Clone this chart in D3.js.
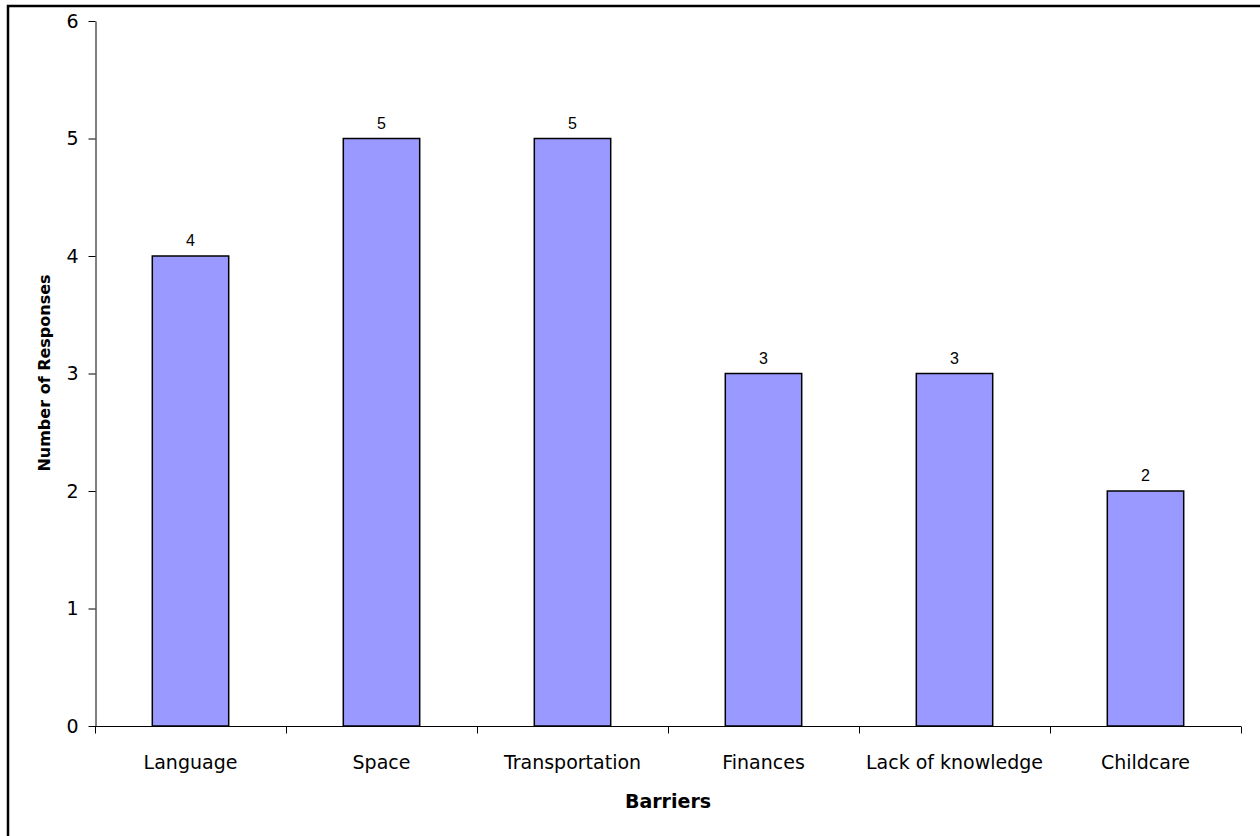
<!DOCTYPE html>
<html>
<head>
<meta charset="utf-8">
<script src="https://cdn.jsdelivr.net/npm/d3@7"></script>
<style>
  body { margin: 0; background: #fff; }
  svg text { fill: #000; }
</style>
</head>
<body>
<svg id="chart" width="1260" height="836"></svg>
<script>
// data
const barriers = ["Language", "Space", "Transportation", "Finances", "Lack of knowledge", "Childcare"];
const responses = [4, 5, 5, 3, 3, 2];
const yTicks = [0, 1, 2, 3, 4, 5, 6];

const svg = d3.select("#chart");

// outer frame (right / bottom edges fall outside the picture)
svg.append("rect")
  .attr("x", 8).attr("y", 6)
  .attr("width", 1270).attr("height", 850)
  .attr("fill", "none")
  .attr("stroke", "#000")
  .attr("stroke-width", 2.5);

const plot = {left: 95, right: 1241, top: 21, bottom: 726};

let x = d3.scaleBand()
  .domain(barriers)
  .range([plot.left, plot.right])
  .paddingInner(0.6)
  .paddingOuter(0.3);

let y = d3.scaleLinear()
  .domain([0, 6])
  .range([plot.bottom, plot.top]);

// y axis
let yAxis = svg.append("g")
  .attr("transform", "translate(" + (plot.left + 0.5) + ",0)")
  .call(d3.axisLeft(y).tickValues(yTicks).tickFormat(d3.format("d"))
    .tickSize(7).tickPadding(10).tickSizeOuter(0));
yAxis.selectAll("text")
  .style("font-family", "DejaVu Sans, Tahoma, sans-serif")
  .style("font-size", "19px");

// x axis, ticks sit between the categories
let xAxis = svg.append("g")
  .attr("transform", "translate(0," + (plot.bottom + 0.5) + ")");
xAxis.append("line")
  .attr("x1", plot.left).attr("x2", plot.right)
  .attr("stroke", "#000");
let edges = d3.range(barriers.length + 1).map(i => plot.left + i * (plot.right - plot.left) / barriers.length);
xAxis.selectAll("line.tick")
  .data(edges)
  .join("line")
  .attr("class", "tick")
  .attr("x1", d => Math.round(d) + 0.5).attr("x2", d => Math.round(d) + 0.5)
  .attr("y1", 0).attr("y2", 7)
  .attr("stroke", "#000");
xAxis.selectAll("text.cat")
  .data(barriers)
  .join("text")
  .attr("class", "cat")
  .attr("x", d => x(d) + x.bandwidth() / 2)
  .attr("y", 42)
  .attr("text-anchor", "middle")
  .style("font-family", "DejaVu Sans, Tahoma, sans-serif")
  .style("font-size", "19px")
  .text(d => d);

svg.selectAll(".domain").attr("stroke", "#000");

// bars
svg.selectAll("rect.bar")
  .data(responses)
  .join("rect")
  .attr("class", "bar")
  .attr("x", (d, i) => x(barriers[i]))
  .attr("y", d => y(d))
  .attr("width", x.bandwidth())
  .attr("height", d => y(0) - y(d))
  .attr("fill", "#9999FF")
  .attr("stroke", "#000")
  .attr("stroke-width", 1.5);

// value labels
svg.selectAll("text.val")
  .data(responses)
  .join("text")
  .attr("class", "val")
  .attr("x", (d, i) => x(barriers[i]) + x.bandwidth() / 2)
  .attr("y", d => y(d) - 10)
  .attr("text-anchor", "middle")
  .style("font-family", "Liberation Sans, Arial, sans-serif")
  .style("font-size", "16px")
  .text(d => d);

// axis titles
svg.append("text")
  .attr("transform", "translate(50,373) rotate(-90)")
  .attr("text-anchor", "middle")
  .style("font-family", "DejaVu Sans, Tahoma, sans-serif")
  .style("font-size", "16px")
  .style("font-weight", "bold")
  .text("Number of Responses");

svg.append("text")
  .attr("x", (plot.left + plot.right) / 2)
  .attr("y", 808)
  .attr("text-anchor", "middle")
  .style("font-family", "DejaVu Sans, Tahoma, sans-serif")
  .style("font-size", "19px")
  .style("font-weight", "bold")
  .text("Barriers");
</script>
</body>
</html>
